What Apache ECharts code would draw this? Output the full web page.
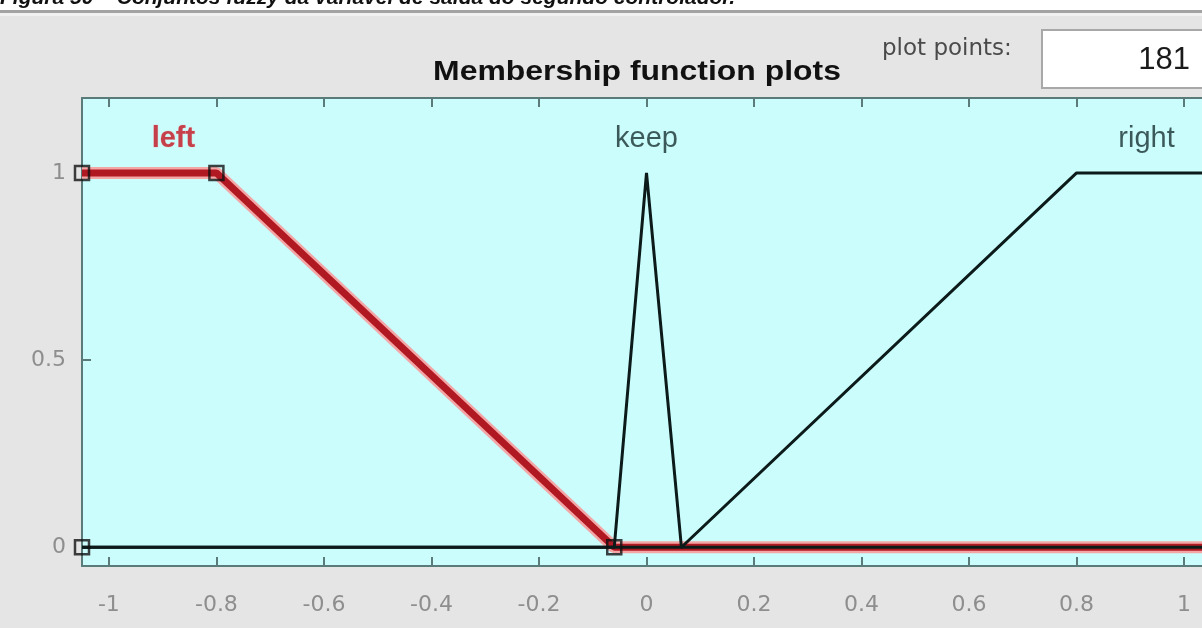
<!DOCTYPE html>
<html>
<head>
<meta charset="utf-8">
<title>Membership function plots</title>
<script src="https://cdn.jsdelivr.net/npm/echarts@6/dist/echarts.min.js"></script>
<style>
  html, body { margin: 0; padding: 0; background: #e5e5e5; overflow: hidden; }
  /* the plot's right edge runs slightly past the window, so the canvas is a little wider */
  #chart { width: 1214px; height: 628px; }
</style>
</head>
<body>
<div id="chart"></div>
<script>
// Output variable range and membership function definitions
const xRange = [-1.05, 1.05];
const yRange = [-0.05, 1.2];
const mfNames = ['left', 'keep', 'right'];
const leftParams = [-1.05, -1.05, -0.8, -0.06];   // trapmf
const keepParams = [-0.06, 0, 0.065];              // trimf
const rightParams = [0.065, 0.8, 1.05, 1.05];      // trapmf
const mfLabelX = [-0.88, 0, 0.93];
const mfLabelY = 1.09;
const xTicks = [-1, -0.8, -0.6, -0.4, -0.2, 0, 0.2, 0.4, 0.6, 0.8, 1];
const yTicks = [0, 0.5, 1];
const plotPoints = '181';

// Trapezoid evaluation (handles vertical shoulders a==b or c==d)
function trap(x, p) {
  const [a, b, c, d] = p;
  const up = b === a ? (x >= a ? 1 : 0) : (x - a) / (b - a);
  const down = d === c ? (x <= d ? 1 : 0) : (d - x) / (d - c);
  return Math.max(Math.min(up, 1, down), 0);
}
function tri(x, p) { return trap(x, [p[0], p[1], p[1], p[2]]); }

// Sample each curve at its breakpoints plus the range ends
function curve(fn, params) {
  const xs = Array.from(new Set([xRange[0], ...params, xRange[1]]))
    .filter(v => v >= xRange[0] && v <= xRange[1])
    .sort((m, n) => m - n);
  return xs.map(x => [x, fn(x, params)]);
}
const leftCurve = curve(trap, leftParams);
const keepCurve = curve(tri, keepParams);
const rightCurve = curve(trap, rightParams);
// Handle squares on the selected (left) function
const leftHandles = [
  [leftParams[0], 0], [leftParams[1], 1], [leftParams[2], 1], [leftParams[3], 0]
];

const axisColor = '#5b7a7a';
const tickLabel = { color: '#8e8e8e', fontSize: 22, fontFamily: 'DejaVu Sans' };

const chart = echarts.init(document.getElementById('chart'));
chart.setOption({
  backgroundColor: '#e5e5e5',
  animation: false,
  graphic: [
    { type: 'rect', shape: { x: 0, y: 0, width: 1214, height: 10 }, style: { fill: '#ffffff' } },
    { type: 'rect', shape: { x: 0, y: 10, width: 1214, height: 3 }, style: { fill: '#a3a3a3' } },
    { type: 'rect', shape: { x: 0, y: 13, width: 1214, height: 3 }, style: { fill: '#f1f1f1' } },
    {
      type: 'text', x: 0, y: 9,
      style: {
        text: 'Figura 50 – Conjuntos fuzzy da variável de saída do segundo controlador.',
        font: 'bold italic 21px "Liberation Sans"', fill: '#111', verticalAlign: 'bottom'
      }
    },
    {
      type: 'text', x: 637, y: 72, scaleX: 1.14,
      style: {
        text: 'Membership function plots', font: 'bold 28px "Liberation Sans"',
        fill: '#111', align: 'center', verticalAlign: 'middle'
      }
    },
    {
      type: 'text', x: 882, y: 49,
      style: {
        text: 'plot points:', font: '23px "DejaVu Sans"', fill: '#4a4a4a', verticalAlign: 'middle'
      }
    },
    {
      type: 'rect', shape: { x: 1042, y: 30, width: 180, height: 58 },
      style: { fill: '#ffffff', stroke: '#a8a8a8', lineWidth: 2 }
    },
    {
      type: 'text', x: 1190, y: 60,
      style: {
        text: plotPoints, font: '31px "Liberation Sans"', fill: '#1a1a1a',
        align: 'right', verticalAlign: 'middle'
      }
    }
  ],
  grid: {
    left: 82, top: 98, width: 1129, height: 468,
    show: true, backgroundColor: '#cbfdfd', borderWidth: 0
  },
  xAxis: [
    {
      type: 'value', min: xRange[0], max: xRange[1], position: 'bottom',
      axisLine: { show: true, onZero: false, lineStyle: { color: axisColor, width: 2 } },
      axisTick: { show: true, inside: true, length: 9, customValues: xTicks, lineStyle: { color: axisColor, width: 2 } },
      axisLabel: Object.assign({ customValues: xTicks, margin: 28 }, tickLabel),
      splitLine: { show: false }
    },
    {
      type: 'value', min: xRange[0], max: xRange[1], position: 'top',
      axisLine: { show: true, onZero: false, lineStyle: { color: axisColor, width: 2 } },
      axisTick: { show: true, inside: true, length: 9, customValues: xTicks, lineStyle: { color: axisColor, width: 2 } },
      axisLabel: { show: false },
      splitLine: { show: false }
    }
  ],
  yAxis: {
    type: 'value', min: yRange[0], max: yRange[1],
    axisLine: { show: true, onZero: false, lineStyle: { color: axisColor, width: 2 } },
    axisTick: { show: true, inside: true, length: 9, customValues: yTicks, lineStyle: { color: axisColor, width: 2 } },
    axisLabel: Object.assign({ customValues: yTicks, margin: 16 }, tickLabel),
    splitLine: { show: false }
  },
  series: [
    {
      name: 'left halo', type: 'line', data: leftCurve, symbol: 'none', z: 2,
      lineStyle: { color: '#f4a6a6', width: 12 }
    },
    {
      name: 'left', type: 'line', data: leftCurve, symbol: 'none', z: 3,
      lineStyle: { color: '#b01822', width: 7 }
    },
    {
      name: 'keep', type: 'line', data: keepCurve, symbol: 'none', z: 4,
      lineStyle: { color: '#0c1a1a', width: 3 }
    },
    {
      name: 'right', type: 'line', data: rightCurve, symbol: 'none', z: 4,
      lineStyle: { color: '#0c1a1a', width: 3 }
    },
    {
      name: 'handles', type: 'scatter', data: leftHandles, symbol: 'rect', symbolSize: 14, z: 6,
      itemStyle: { color: 'rgba(0,0,0,0)', borderColor: '#111', borderWidth: 2.5 }
    },
    {
      name: 'names', type: 'scatter', symbolSize: 0, z: 7, silent: true,
      data: mfNames.map((n, i) => ({
        name: n, value: [mfLabelX[i], mfLabelY],
        label: i === 0
          ? { color: '#c2121f', fontWeight: 'bold', textBorderColor: 'rgba(250,180,180,0.5)', textBorderWidth: 1 }
          : { color: '#18302f' }
      })),
      label: {
        show: true, position: 'inside', formatter: p => p.name,
        fontSize: 29, fontFamily: 'Liberation Sans'
      }
    }
  ]
});
</script>
</body>
</html>
